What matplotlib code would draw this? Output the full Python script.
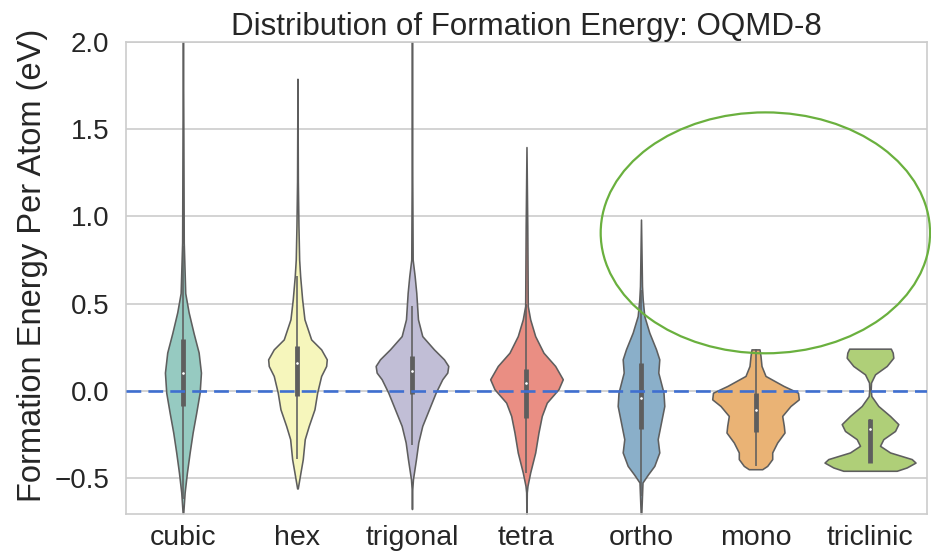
import colorsys
import matplotlib
matplotlib.use("Agg")
import matplotlib.pyplot as plt
import matplotlib.colors as mcolors
from matplotlib.patches import Ellipse

plt.rcParams["font.family"] = ["Liberation Sans", "DejaVu Sans"]

categories = ["cubic", "hex", "trigonal", "tetra", "ortho", "mono", "triclinic"]
palette = ["#8dd3c7", "#ffffb3", "#bebada", "#fb8072", "#80b1d3", "#fdb462", "#b3de69"]

# violin outlines: energy value and relative density (half width)
cubic_y = [2.05, 1.5, 0.85, 0.56, 0.45, 0.33, 0.22, 0.105, -0.01, -0.124, -0.238, -0.353, -0.467, -0.581, -0.7]
cubic_d = [0.0, 0.4, 0.8, 2.3, 5.7, 10.7, 15.7, 18.0, 16.7, 13.3, 9.7, 6.7, 4.0, 1.7, 0.3]

hex_y = [1.787, 1.2, 0.943, 0.752, 0.657, 0.524, 0.41, 0.295, 0.238, 0.181, 0.143, 0.086, -0.01, -0.105, -0.2, -0.276, -0.391, -0.467, -0.558]
hex_d = [0.0, 0.4, 1.0, 1.7, 2.7, 4.7, 7.0, 13.7, 23.7, 29.3, 28.7, 23.7, 19.7, 17.0, 11.3, 7.3, 5.3, 3.0, 0.3]

trigonal_y = [2.05, 1.2, 0.752, 0.657, 0.562, 0.41, 0.314, 0.238, 0.181, 0.143, 0.105, 0.067, -0.01, -0.105, -0.2, -0.295, -0.391, -0.505, -0.562, -0.676]
trigonal_d = [0.0, 0.3, 0.7, 2.7, 4.3, 6.0, 10.3, 22.0, 32.0, 36.3, 35.3, 30.3, 23.7, 17.0, 10.3, 6.3, 4.0, 1.0, 0.3, 0.0]

tetra_y = [1.396, 0.943, 0.486, 0.41, 0.314, 0.219, 0.143, 0.067, 0.01, -0.067, -0.143, -0.238, -0.353, -0.467, -0.543, -0.581, -0.75]
tetra_d = [0.0, 0.8, 1.3, 3.7, 8.7, 17.0, 28.7, 36.3, 32.0, 20.3, 15.3, 12.0, 8.7, 3.7, 1.0, 0.3, 0.0]

ortho_y = [0.981, 0.6, 0.524, 0.429, 0.334, 0.239, 0.181, 0.105, -0.01, -0.086, -0.181, -0.276, -0.352, -0.429, -0.48, -0.524, -0.75]
ortho_d = [0.0, 1.0, 1.7, 3.3, 8.3, 15.0, 18.3, 17.3, 22.5, 23.3, 20.0, 16.7, 18.3, 13.3, 6.7, 1.5, 0.0]

mono_y = [0.238, 0.2, 0.143, 0.086, 0.029, -0.01, -0.048, -0.086, -0.143, -0.2, -0.238, -0.295, -0.352, -0.39, -0.429, -0.448]
mono_d = [4.0, 5.0, 6.0, 10.0, 28.0, 42.5, 43.3, 35.0, 26.7, 28.3, 29.0, 21.7, 16.7, 16.7, 11.7, 6.7]

triclinic_y = [0.242, 0.219, 0.19, 0.143, 0.095, 0.048, 0.01, -0.029, -0.086, -0.143, -0.19, -0.229, -0.276, -0.314, -0.352, -0.39, -0.41, -0.438, -0.457]
triclinic_d = [20.8, 22.7, 23.3, 16.7, 5.0, 1.0, 0.7, 1.3, 8.3, 20.0, 28.3, 25.0, 13.3, 10.0, 20.0, 41.7, 45.5, 36.7, 26.7]

profiles_y = [cubic_y, hex_y, trigonal_y, tetra_y, ortho_y, mono_y, triclinic_y]
profiles_d = [cubic_d, hex_d, trigonal_d, tetra_d, ortho_d, mono_d, triclinic_d]

# inner box: quartiles, median, whiskers
q1 = [-0.086, -0.029, -0.019, -0.152, -0.215, -0.233, -0.41]
q3 = [0.299, 0.257, 0.200, 0.128, 0.158, -0.010, -0.162]
medians = [0.105, 0.158, 0.115, 0.044, -0.038, -0.109, -0.219]
whisk_lo = [-0.62, -0.39, -0.31, -0.47, -0.60, -0.43, -0.41]
whisk_hi = [0.83, 0.657, 0.486, 0.50, 0.58, 0.238, -0.162]

DENS_SCALE = 1 / 114.5


def desaturate(c, prop=0.75):
    h, l, s = colorsys.rgb_to_hls(*mcolors.to_rgb(c))
    return colorsys.hls_to_rgb(h, l, s * prop)


gray = "#5e5e5e"
lw = 1.15

fig = plt.figure(figsize=(9.31, 5.54), dpi=100)
ax = fig.add_axes([0.135, 0.072, 0.861, 0.853])

for i in range(len(categories)):
    ys = profiles_y[i]
    ds = [d * DENS_SCALE for d in profiles_d[i]]
    left = [i - d for d in ds]
    right = [i + d for d in ds]
    ax.fill_betweenx(ys, left, right, facecolor=desaturate(palette[i]),
                     edgecolor=gray, linewidth=lw, zorder=2)
    ax.plot([i, i], [whisk_lo[i], whisk_hi[i]], color=gray, lw=lw, zorder=3,
            solid_capstyle="butt")
    ax.plot([i, i], [q1[i], q3[i]], color=gray, lw=lw * 3, zorder=3,
            solid_capstyle="butt")
    ax.scatter([i], [medians[i]], s=5, color="white", edgecolor=gray,
               linewidth=0.3, zorder=4)

ax.axhline(0, color="#3f6fd0", lw=1.9, linestyle=(0, (5.6, 2.7)), zorder=5)

ell = Ellipse((5.086, 0.905), 2.876, 1.379, fill=False, edgecolor="#6ab03e",
              lw=1.6, zorder=6, clip_on=False)
ax.add_patch(ell)

ax.set_xlim(-0.5, 6.5)
ax.set_ylim(-0.705, 2.0)
ax.set_xticks(range(len(categories)))
ax.set_xticklabels(categories)
ax.set_yticks([-0.5, 0.0, 0.5, 1.0, 1.5, 2.0])
ax.set_yticklabels(["\u22120.5", "0.0", "0.5", "1.0", "1.5", "2.0"])
ax.tick_params(length=0, colors="#262626")
ax.tick_params(axis="x", labelsize=20.5, pad=8)
ax.tick_params(axis="y", labelsize=20, pad=12)
ax.grid(axis="y", color="#cccccc", lw=1.2)
ax.set_axisbelow(True)
for s in ax.spines.values():
    s.set_color("#cccccc")
    s.set_linewidth(1.2)

ax.set_ylabel("Formation Energy Per Atom (eV)", fontsize=23.5, color="#262626")
ax.yaxis.set_label_coords(-0.097, 0.527)
ax.set_title("Distribution of Formation Energy: OQMD-8", fontsize=22.5, color="#262626", pad=3)

fig.savefig("out.png", dpi=100)
